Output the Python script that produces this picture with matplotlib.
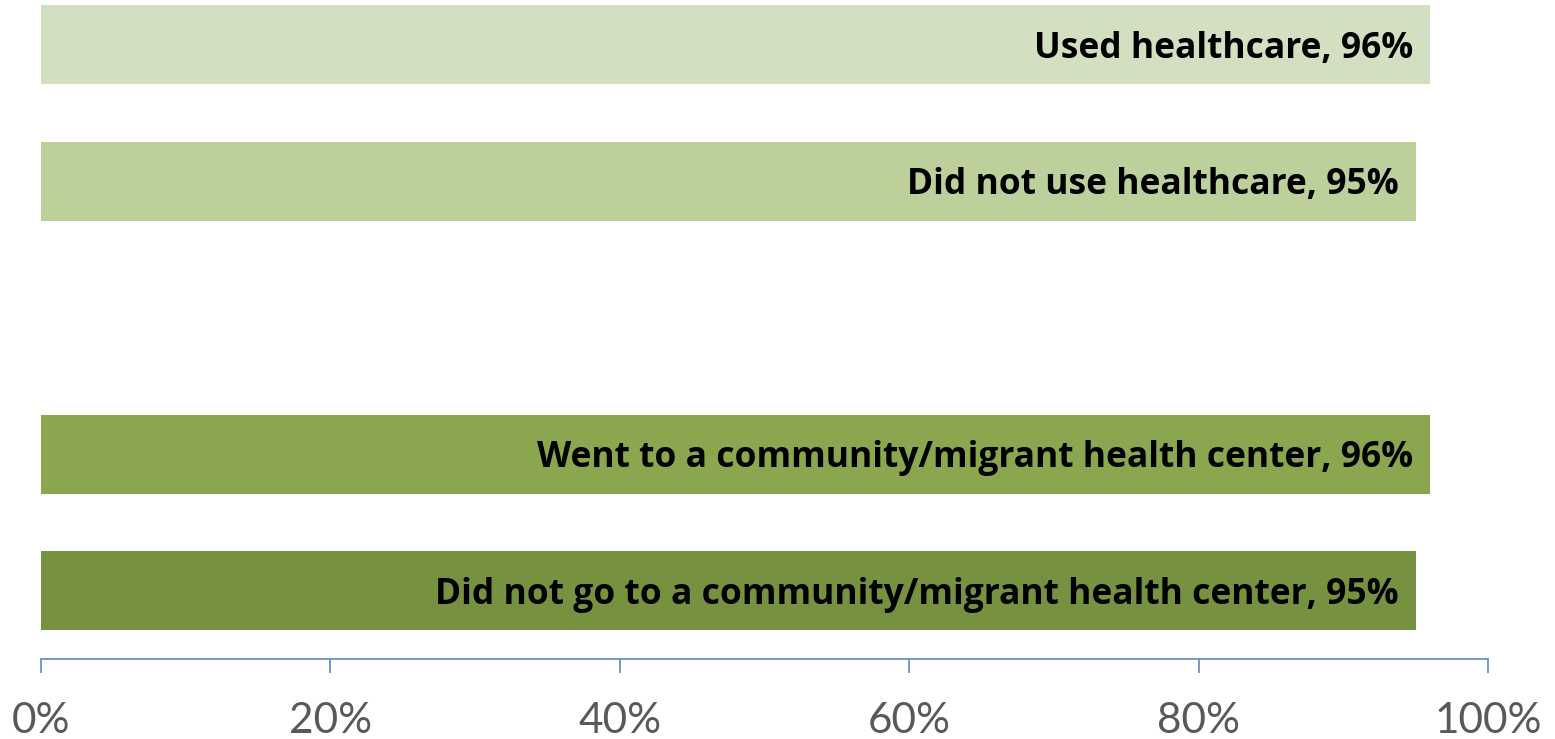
import matplotlib.pyplot as plt

labels = ["Used healthcare", "Did not use healthcare", "",
          "Went to a community/migrant health center",
          "Did not go to a community/migrant health center"]
values = [96, 95, None, 96, 95]
colors = ["#D2DFC0", "#BBD09A", "white", "#8AA64E", "#76913F"]
ticks = [0, 20, 40, 60, 80, 100]

fig = plt.figure(figsize=(15.55, 7.39), dpi=100)
# axes runs a little past the top edge so the top bar sits flush with it
ax = fig.add_axes([0.02637, 0.10825, 0.93055, 0.92355])

for i, (lab, val, col) in enumerate(zip(labels, values, colors)):
    if val is None:
        continue
    ax.barh(i, val, height=0.58, color=col)
    ax.text(val - 1.2, i + 0.03, f"{lab}, {val}%", ha="right", va="center",
            fontsize=25.5, fontweight="bold", family="Open Sans", color="black")

ax.set_ylim(4.5, -0.5)
ax.set_xlim(0, 100)
ax.set_yticks([])
ax.set_xticks(ticks)
ax.set_xticklabels([f"{t}%" for t in ticks], fontsize=30.5, family="Lato", color="#595959")
ax.tick_params(axis="x", direction="out", length=10, width=1.2, color="#5B87C5", pad=21)
for side in ["top", "right", "left"]:
    ax.spines[side].set_visible(False)
ax.spines["bottom"].set_color("#5B87C5")
ax.spines["bottom"].set_linewidth(1.2)

fig.savefig("out.png", dpi=100)
